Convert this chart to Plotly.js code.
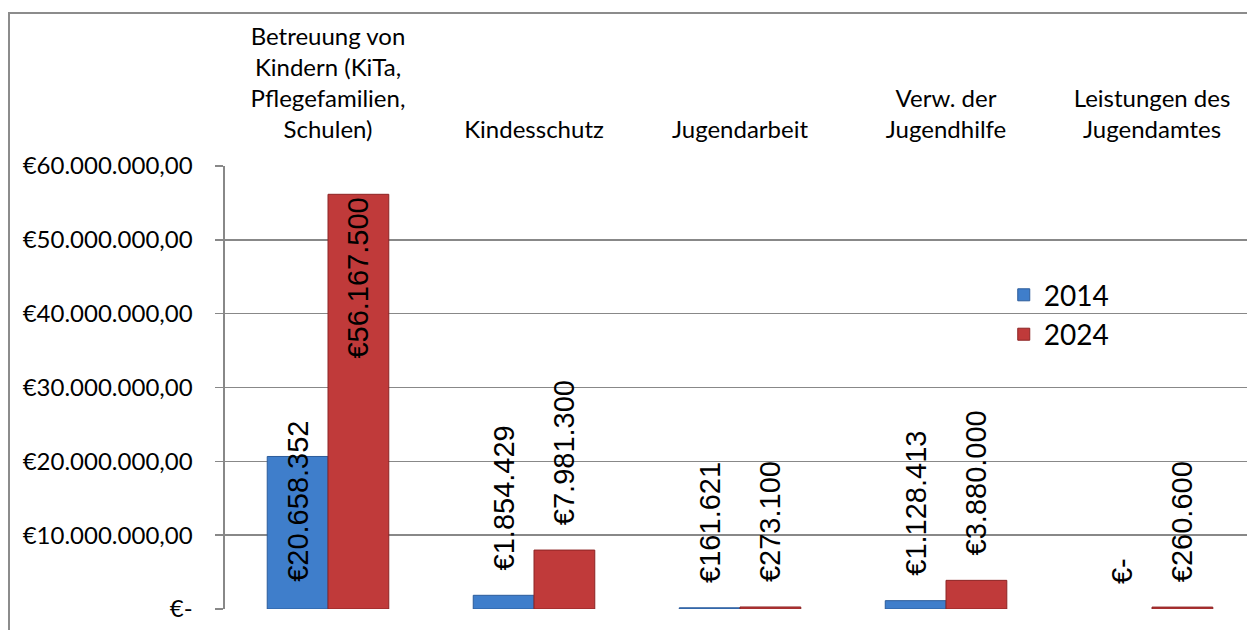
<!DOCTYPE html>
<html><head><meta charset="utf-8">
<script src="https://cdn.plot.ly/plotly-3.0.1.min.js"></script>
<style>
html,body{margin:0;padding:0;background:#fff;overflow:hidden;}
#chart{position:absolute;left:0;top:0;width:1247px;height:630px;}
#frame{position:absolute;left:8px;top:12px;width:1260px;height:660px;border:2px solid #8c8c8c;pointer-events:none;}
</style></head><body>
<div id="chart"></div><div id="frame"></div>
<script>
const categories = ["Betreuung von<br>Kindern (KiTa,<br>Pflegefamilien,<br>Schulen)", "Kindesschutz", "Jugendarbeit", "Verw. der<br>Jugendhilfe", "Leistungen des<br>Jugendamtes"];
const seriesNames = ["2014", "2024"];
const values2014 = [20658352, 1854429, 161621, 1128413, 0];
const values2024 = [56167500, 7981300, 273100, 3880000, 260600];
const yTickValues = [0, 10000000, 20000000, 30000000, 40000000, 50000000, 60000000];
const yTickLabels = ["€-", "€10.000.000,00", "€20.000.000,00", "€30.000.000,00", "€40.000.000,00", "€50.000.000,00", "€60.000.000,00"];

function fmt(v){
  if(v === 0) return "€-";
  return "€" + String(Math.round(v)).replace(/\B(?=(\d{3})+(?!\d))/g, ".");
}
const NB = "\u00A0";
const padOut = NB + NB + "\u2009";
const padIn = NB + NB + NB;

const text2014 = values2014.map((v,i)=> i === 0 ? padIn + fmt(v) : padOut + fmt(v));
const text2024 = values2024.map((v,i)=> i === 0 ? fmt(v) : padOut + fmt(v));
const pos2014 = values2014.map((v,i)=> i === 0 ? "inside" : "outside");
const pos2024 = values2024.map((v,i)=> i === 0 ? "inside" : "outside");
const line2014 = values2014.map(v => v === 0 ? 0 : 1);
const line2024 = values2024.map(v => v === 0 ? 0 : 1);

const labelFont = {family: "Liberation Sans, Arial, sans-serif", size: 29, color: "#000"};
const grey = "#888888";

const traces = [
  {type:"bar", name:seriesNames[0], x:categories, y:values2014, text:text2014, textposition:pos2014,
   textangle:-90, insidetextanchor:"start", constraintext:"none", cliponaxis:false,
   textfont:labelFont, insidetextfont:labelFont, outsidetextfont:labelFont,
   marker:{color:"#3f7ecb", line:{color:"#2c5c9a", width:line2014}}, hoverinfo:"none"},
  {type:"bar", name:seriesNames[1], x:categories, y:values2024, text:text2024, textposition:pos2024,
   textangle:-90, insidetextanchor:"end", constraintext:"none", cliponaxis:false,
   textfont:labelFont, insidetextfont:labelFont, outsidetextfont:labelFont,
   marker:{color:"#c03a3a", line:{color:"#8c2424", width:line2024}}, hoverinfo:"none"}
];

const xr = [-0.5, 4.461];
const layout = {
  width:1247, height:630,
  margin:{l:225, r:0, t:166, b:21, pad:0},
  paper_bgcolor:"#fff", plot_bgcolor:"#fff",
  barmode:"group", bargap:0.41, bargroupgap:0,
  font:{family:"Lato, sans-serif", color:"#000", size:24},
  xaxis:{type:"category", side:"top", range:xr, showgrid:false, showline:false, zeroline:false,
         ticks:"", ticklabelstandoff:22, tickfont:{family:"Lato, sans-serif", size:24, color:"#000"}},
  xaxis2:{overlaying:"x", side:"bottom", anchor:"y", type:"linear", range:xr,
          tickvals:[-0.5, 0.5, 1.5, 2.5, 3.5], ticks:"outside", ticklen:8, tickwidth:1.6, tickcolor:grey,
          showticklabels:false, showline:true, linecolor:grey, linewidth:1.6, showgrid:false, zeroline:false},
  yaxis:{range:[0, 60000000], tickvals:yTickValues, ticktext:yTickLabels, ticks:"outside", ticklen:8,
         tickwidth:1.6, tickcolor:grey, showline:true, linecolor:grey, linewidth:1.6,
         showgrid:true, gridcolor:grey, gridwidth:1.6, zeroline:false, ticklabelstandoff:18,
         tickfont:{family:"Lato, sans-serif", size:24, color:"#000"}},
  legend:{x:0.762, y:0.765, xanchor:"left", yanchor:"top", font:{family:"Lato, sans-serif", size:28, color:"#000"},
          bgcolor:"rgba(0,0,0,0)", traceorder:"normal"},
  showlegend:true
};
Plotly.newPlot("chart", traces, layout, {staticPlot:true, displayModeBar:false});
</script>
</body></html>
